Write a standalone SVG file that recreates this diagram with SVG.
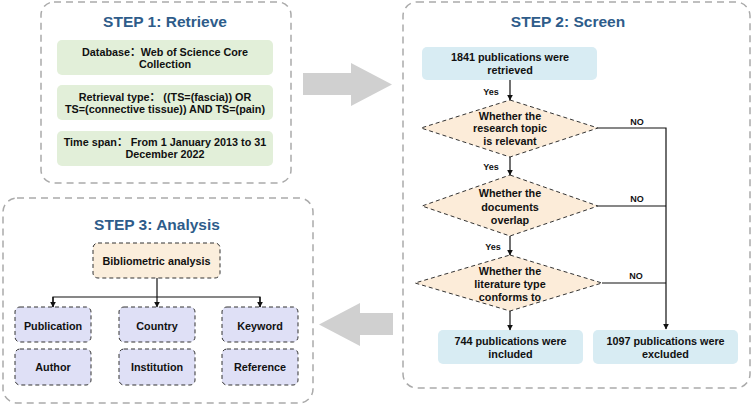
<svg xmlns="http://www.w3.org/2000/svg" width="752" height="406" viewBox="0 0 752 406">
<style>
.step{fill:#fff;stroke:#aaaaaa;stroke-width:1.5;stroke-dasharray:7 5}
.title{font-family:"Liberation Sans",Arial,sans-serif;font-weight:bold;font-size:15.5px;fill:#2e5c8a;text-anchor:middle}
.t{font-family:"Liberation Sans",Arial,"Noto Sans CJK SC",sans-serif;font-weight:bold;font-size:10.8px;fill:#111;text-anchor:middle}
.lab{font-family:"Liberation Sans",Arial,sans-serif;font-weight:bold;font-size:9px;fill:#111;text-anchor:middle}
.green{fill:#e2efd9}
.blue{fill:#d8ecf3}
.dia{fill:#fcecd9;stroke:#333;stroke-width:1;stroke-dasharray:4 3}
.bib{fill:#fbeedc;stroke:#333;stroke-width:1;stroke-dasharray:4 3}
.lav{fill:#dfe0f6;stroke:#333;stroke-width:1;stroke-dasharray:4 3}
.ln{fill:none;stroke:#111;stroke-width:1.2}
.big{fill:#d0d0d0}
</style>
<defs>
<marker id="ah" viewBox="0 0 10 10" refX="9" refY="5" markerWidth="6" markerHeight="6" orient="auto" markerUnits="userSpaceOnUse">
<path d="M0,0 L10,5 L0,10 z" fill="#111"/>
</marker>
</defs>

<g id="step1">
<rect class="step" x="41" y="2" width="250" height="181" rx="13"/>
<text class="title" x="165" y="27">STEP 1: Retrieve</text>
</g>
<g id="database">
<rect class="green" x="57" y="40" width="216" height="35" rx="5"/>
<text class="t" x="165" y="55.5">Database：Web of Science Core</text>
<text class="t" x="165" y="68">Collection</text>
</g>
<g id="retrieval">
<rect class="green" x="57" y="85" width="216" height="35" rx="5"/>
<text class="t" x="165" y="100.5">Retrieval type：  ((TS=(fascia)) OR</text>
<text class="t" x="165" y="113">TS=(connective tissue)) AND TS=(pain)</text>
</g>
<g id="timespan">
<rect class="green" x="57" y="131" width="216" height="35" rx="5"/>
<text class="t" x="165" y="145.5">Time span：  From 1 January 2013 to 31</text>
<text class="t" x="165" y="158">December 2022</text>
</g>

<g id="step2">
<rect class="step" x="403" y="2" width="347" height="386" rx="14"/>
<text class="title" x="568" y="27">STEP 2: Screen</text>
</g>
<g id="retrieved">
<rect class="blue" x="422" y="47" width="175" height="33" rx="5"/>
<text class="t" x="510" y="61">1841 publications were</text>
<text class="t" x="510" y="73.5">retrieved</text>
</g>
<g id="d1">
<polygon class="dia" points="510,100 598,128 510,157 421,128"/>
<text class="t" x="510" y="119.5">Whether the</text>
<text class="t" x="510" y="132">research topic</text>
<text class="t" x="510" y="145">is relevant</text>
</g>
<g id="d2">
<polygon class="dia" points="510,175 598,206 510,236 422,206"/>
<text class="t" x="510" y="197">Whether the</text>
<text class="t" x="510" y="210.5">documents</text>
<text class="t" x="510" y="223.5">overlap</text>
</g>
<g id="d3">
<polygon class="dia" points="510,255 602,283 510,311 415,283"/>
<text class="t" x="510" y="275">Whether the</text>
<text class="t" x="510" y="288">literature type</text>
<text class="t" x="510" y="301">conforms to</text>
</g>
<g id="included">
<rect class="blue" x="438" y="330" width="145" height="34" rx="5"/>
<text class="t" x="510.5" y="345">744 publications were</text>
<text class="t" x="510.5" y="357.5">included</text>
</g>
<g id="excluded">
<rect class="blue" x="593" y="330" width="145" height="34" rx="5"/>
<text class="t" x="665.5" y="345">1097 publications were</text>
<text class="t" x="665.5" y="357.5">excluded</text>
</g>

<g id="step3">
<rect class="step" x="3" y="198" width="310" height="205" rx="14"/>
<text class="title" x="157" y="230">STEP 3: Analysis</text>
</g>
<g id="bibliometric">
<rect class="bib" x="93" y="243" width="127" height="35" rx="5"/>
<text class="t" x="156.5" y="265">Bibliometric analysis</text>
</g>
<g id="publication">
<rect class="lav" x="15" y="307" width="76" height="35" rx="5"/>
<text class="t" x="53" y="330">Publication</text>
</g>
<g id="country">
<rect class="lav" x="119" y="307" width="76" height="35" rx="5"/>
<text class="t" x="157" y="330">Country</text>
</g>
<g id="keyword">
<rect class="lav" x="222" y="307" width="76" height="35" rx="5"/>
<text class="t" x="260" y="330">Keyword</text>
</g>
<g id="author">
<rect class="lav" x="15" y="349" width="76" height="36" rx="5"/>
<text class="t" x="53" y="371">Author</text>
</g>
<g id="institution">
<rect class="lav" x="119" y="349" width="76" height="36" rx="5"/>
<text class="t" x="157" y="371">Institution</text>
</g>
<g id="reference">
<rect class="lav" x="222" y="349" width="76" height="36" rx="5"/>
<text class="t" x="260" y="371">Reference</text>
</g>

<g id="connectors">
<polygon class="big" points="303,73 351,73 351,63 392,84.5 351,106 351,95 303,95"/>
<polygon class="big" points="393,313 360,313 360,303 319,324.5 360,346 360,335 393,335"/>
<line class="ln" x1="510" y1="80" x2="510" y2="100" marker-end="url(#ah)"/>
<line class="ln" x1="510" y1="157" x2="510" y2="175" marker-end="url(#ah)"/>
<line class="ln" x1="510" y1="236" x2="510" y2="255" marker-end="url(#ah)"/>
<line class="ln" x1="510" y1="311" x2="510" y2="330" marker-end="url(#ah)"/>
<text class="lab" x="491" y="94.5">Yes</text>
<text class="lab" x="491" y="169.5">Yes</text>
<text class="lab" x="493" y="249.5">Yes</text>
<polyline class="ln" points="598,128 666,128 666,329" marker-end="url(#ah)"/>
<line class="ln" x1="598" y1="206" x2="666" y2="206"/>
<line class="ln" x1="602" y1="283" x2="666" y2="283"/>
<text class="lab" x="637" y="125">NO</text>
<text class="lab" x="637" y="202">NO</text>
<text class="lab" x="636" y="279">NO</text>
<line class="ln" x1="157" y1="278" x2="157" y2="307" marker-end="url(#ah)"/>
<polyline class="ln" points="53,307 53,297 260,297 260,307"/>
<line class="ln" x1="53" y1="297" x2="53" y2="307" marker-end="url(#ah)"/>
<line class="ln" x1="260" y1="297" x2="260" y2="307" marker-end="url(#ah)"/>
</g>
</svg>
